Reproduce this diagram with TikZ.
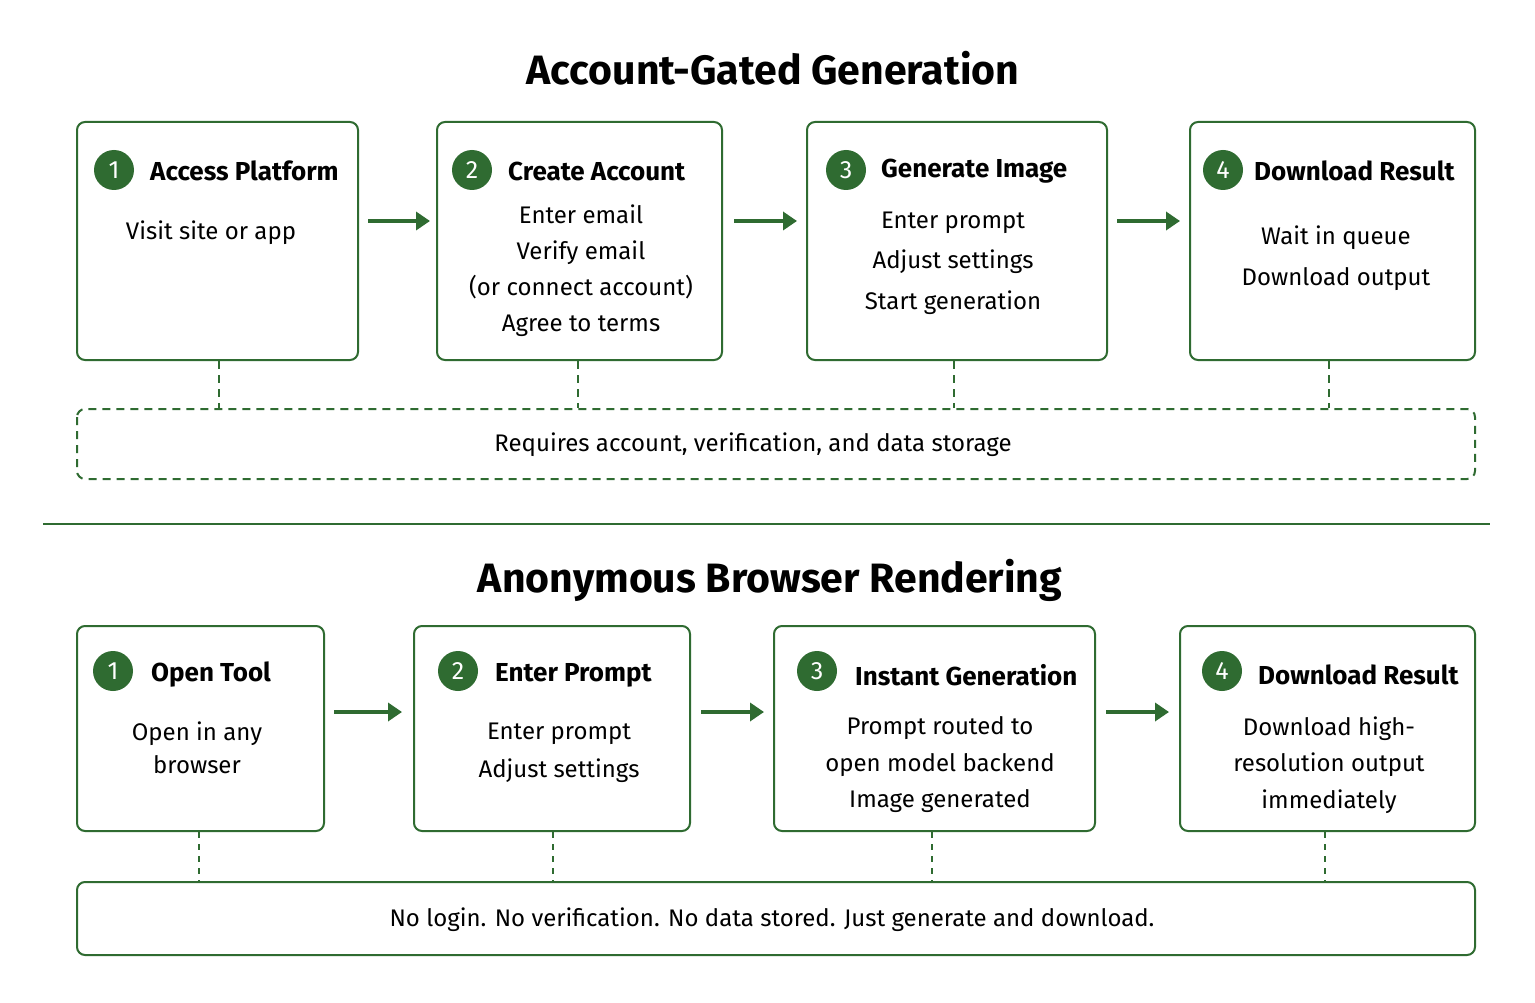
\documentclass[tikz,border=0pt]{standalone}
\usepackage{fontspec}
\setmainfont{Fira Sans}
\usetikzlibrary{arrows.meta}
\definecolor{g}{HTML}{2F6B31}
\begin{document}
\begin{tikzpicture}[x=1pt,y=-1pt,
 box/.style={draw=g,line width=2pt,rounded corners=8pt},
 num/.style={circle,fill=g,text=white,minimum size=40pt,inner sep=0pt,font=\fontsize{25}{25}\selectfont},
 ttl/.style={anchor=west,inner sep=0pt,font=\fontsize{26}{26}\selectfont\bfseries},
 body/.style={align=center,font=\fontsize{24}{37}\selectfont},
 arr/.style={draw=g,line width=4pt,-{Triangle[length=14pt,width=18pt]}},
 dl/.style={draw=g,line width=2pt,dash pattern=on 8pt off 6pt},
 head/.style={font=\fontsize{41}{41}\selectfont\bfseries}]
\useasboundingbox[fill=white] (0,0) rectangle (1535,1003);
\node[head] (t1) at (773,68) {Account-Gated Generation};
\node[head] (t2) at (770,580) {Anonymous Browser Rendering};
\draw[g,line width=2pt] (43,524) coordinate (s1) -- (1490,524) coordinate (s2);
% top row
\draw[box] (77,122) rectangle (358,360);
\draw[box] (437,122) rectangle (722,360);
\draw[box] (807,122) rectangle (1107,360);
\draw[box] (1190,122) rectangle (1475,360);
\node[num] (n1) at (114,170) {1}; \node[ttl] (h1) at (150,171) {Access Platform};
\node[num] (n2) at (472,170) {2}; \node[ttl] (h2) at (508,171) {Create Account};
\node[num] (n3) at (846,170) {3}; \node[ttl] (h3) at (881,171) {Generate Image};
\node[num] (n4) at (1223,170) {4}; \node[ttl] (h4) at (1254,171) {Download Result};
\node[body] (b1) at (211,233) {Visit site or app};
\node[body,font=\fontsize{24}{36}\selectfont] (b2) at (581,271) {Enter email\\Verify email\\(or connect account)\\Agree to terms};
\node[body,font=\fontsize{24}{40.5}\selectfont] (b3) at (953,263) {Enter prompt\\Adjust settings\\Start generation};
\node[body,font=\fontsize{24}{41}\selectfont] (b4) at (1336,258) {Wait in queue\\Download output};
\coordinate (a1s) at (368,221); \coordinate (a1e) at (430,221);
\coordinate (a2s) at (734,221); \coordinate (a2e) at (797,221);
\coordinate (a3s) at (1117,221); \coordinate (a3e) at (1180,221);
\draw[arr] (a1s) -- (a1e); \draw[arr] (a2s) -- (a2e); \draw[arr] (a3s) -- (a3e);
\draw[dl,rounded corners=8pt] (77,409) rectangle (1475,479);
\node[body] (r1) at (753,445) {Requires account, verification, and data storage};
\foreach \x in {219,578,954,1329} \draw[dl] (\x,361) -- (\x,408);
% bottom row
\draw[box] (77,626) rectangle (324,831);
\draw[box] (414,626) rectangle (690,831);
\draw[box] (774,626) rectangle (1095,831);
\draw[box] (1180,626) rectangle (1475,831);
\node[num] (m1) at (113,671) {1}; \node[ttl] (k1) at (151,675) {Open Tool};
\node[num] (m2) at (458,671) {2}; \node[ttl] (k2) at (495,675) {Enter Prompt};
\node[num] (m3) at (817,671) {3}; \node[ttl] (k3) at (855,675) {Instant Generation};
\node[num] (m4) at (1222,671) {4}; \node[ttl] (k4) at (1258,675) {Download Result};
\node[body,font=\fontsize{24}{33}\selectfont] (c1) at (197,748) {Open in any\\browser};
\node[body,font=\fontsize{24}{38}\selectfont] (c2) at (559,753) {Enter prompt\\Adjust settings};
\node[body,font=\fontsize{24}{36.5}\selectfont] (c3) at (940,765) {Prompt routed to\\open model backend\\Image generated};
\node[body,font=\fontsize{24}{36.5}\selectfont] (c4) at (1329,765) {Download high-\\resolution output\\immediately};
\coordinate (d1s) at (334,712); \coordinate (d1e) at (402,712);
\coordinate (d2s) at (701,712); \coordinate (d2e) at (764,712);
\coordinate (d3s) at (1106,712); \coordinate (d3e) at (1169,712);
\draw[arr] (d1s) -- (d1e); \draw[arr] (d2s) -- (d2e); \draw[arr] (d3s) -- (d3e);
\draw[box] (77,882) rectangle (1475,955);
\node[body] (r2) at (772,920) {No login. No verification. No data stored. Just generate and download.};
\foreach \x in {199,553,932,1325} \draw[dl,dash pattern=on 6pt off 6pt] (\x,832) -- (\x,881);
\end{tikzpicture}
\end{document}
